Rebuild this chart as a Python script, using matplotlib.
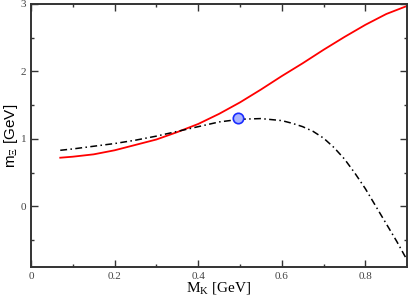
import matplotlib
matplotlib.use('Agg')
import matplotlib.pyplot as plt
from matplotlib.ticker import MultipleLocator

# curves
mk_red = [0.07, 0.1, 0.15, 0.2, 0.25, 0.3, 0.35, 0.4, 0.45,
          0.5, 0.55, 0.6, 0.65, 0.7, 0.75, 0.8, 0.85, 0.9]
m_red = [0.72, 0.735, 0.77, 0.83, 0.91, 0.99, 1.10, 1.22, 1.37,
         1.54, 1.73, 1.93, 2.12, 2.32, 2.51, 2.69, 2.85, 2.97]
mk_dash = [0.07, 0.1, 0.15, 0.2, 0.25, 0.3, 0.35, 0.4, 0.45, 0.5,
           0.55, 0.6, 0.625, 0.65, 0.675, 0.7, 0.725, 0.75, 0.775,
           0.8, 0.825, 0.85, 0.875, 0.9]
m_dash = [0.83, 0.85, 0.89, 0.93, 0.98, 1.04, 1.11, 1.18, 1.25, 1.29,
          1.30, 1.27, 1.23, 1.18, 1.11, 1.01, 0.87, 0.70, 0.49,
          0.26, 0.00, -0.26, -0.52, -0.80]

# physical point
pt_x = [0.495]
pt_y = [1.31]
pt_err = [0.04]

plt.rcParams['font.family'] = ['Liberation Serif', 'DejaVu Serif']
plt.rcParams['mathtext.fontset'] = 'custom'
plt.rcParams['mathtext.rm'] = 'Liberation Serif'

fig = plt.figure(figsize=(4.08, 2.99), dpi=100)
ax = fig.add_axes([0.076, 0.107, 0.922, 0.88])

ax.plot(mk_red, m_red, color='red', lw=1.3)
ax.plot(mk_dash, m_dash, color='black', lw=1.1,
        linestyle=(0, (4.5, 2.2, 1, 2.2)))
ax.errorbar(pt_x, pt_y, yerr=pt_err, fmt='o', ms=7.5, mfc='#a9b4ff',
            mec='#1a2cff', mew=1.2, ecolor='#1a2cff', elinewidth=0.8,
            capsize=0, zorder=5)

ax.set_xlim(0, 0.9)
ax.set_ylim(-0.9, 3)
ax.xaxis.set_minor_locator(MultipleLocator(0.1))
ax.yaxis.set_major_locator(MultipleLocator(1))
ax.yaxis.set_minor_locator(MultipleLocator(0.5))
ax.set_xticks([0, 0.2, 0.4, 0.6, 0.8])
ax.set_xticklabels(['0', '0.2', '0.4', '0.6', '0.8'])
ax.tick_params(which='both', direction='in', top=True, right=True,
               labelsize=8, width=1, colors='#333333', labelcolor='#444444')
ax.tick_params(which='major', length=5)
ax.tick_params(which='minor', length=2.5)
for s in ax.spines.values():
    s.set_linewidth(1.4)
    s.set_color('#333333')

ax.set_xlabel(r'M$_\mathrm{K}$ [GeV]', fontsize=11, labelpad=0)
ax.set_ylabel(r'm$_\Xi$ [GeV]', fontsize=11,
              family=['Liberation Sans', 'DejaVu Sans'])
ax.yaxis.set_label_coords(-0.03, 0.5)

fig.savefig('out.png', dpi=100)
